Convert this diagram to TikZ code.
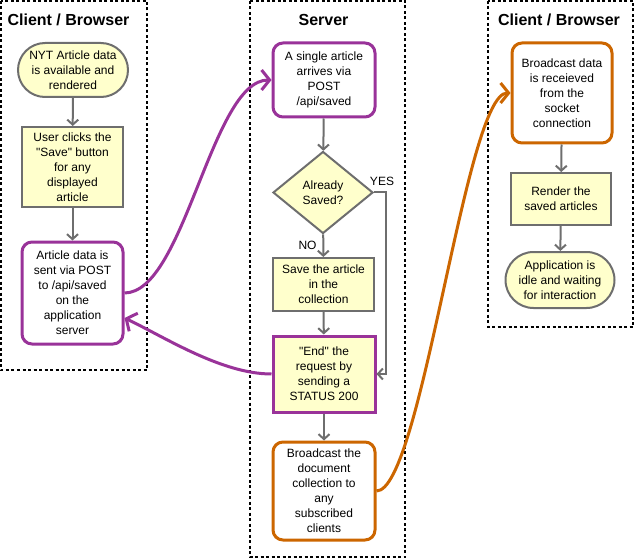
\documentclass[tikz,border=0pt]{standalone}
\usepackage{fontspec}
\setmainfont{Liberation Sans}[Ligatures=TeXOff]
\usetikzlibrary{arrows.meta,shapes.geometric}
\definecolor{gline}{RGB}{110,110,110}
\definecolor{yfill}{RGB}{255,255,204}
\definecolor{purp}{RGB}{153,51,153}
\definecolor{orng}{RGB}{204,102,0}
\begin{document}
\begin{tikzpicture}[x=1pt,y=-1pt,
  txt/.style={font=\fontsize{12}{15}\selectfont, align=center, inner sep=0pt},
  title/.style={font=\fontsize{16}{18}\selectfont\bfseries, inner sep=0pt},
  lane/.style={draw=black, line width=2pt, dash pattern=on 3pt off 2.5pt},
  ybox/.style={txt, draw=gline, line width=2pt, fill=yfill},
  stadium/.style={ybox, rounded corners=27pt},
  pround/.style={txt, draw=purp, line width=3pt, fill=white, rounded corners=10pt},
  oround/.style={txt, draw=orng, line width=3pt, fill=white, rounded corners=10pt},
  garrow/.style={draw=gline, line width=2pt, -{Straight Barb[length=5pt,width=11pt]}},
  parrow/.style={draw=purp, line width=3pt, -{Straight Barb[length=8pt,width=20pt]}},
  oarrow/.style={draw=orng, line width=3pt, -{Straight Barb[length=8pt,width=20pt]}},
  lbl/.style={font=\fontsize{12}{15}\selectfont, inner sep=0pt}
]
\useasboundingbox (0,0) rectangle (635,559);
% lanes
\draw[lane] (1,1) rectangle (147,370);
\draw[lane] (250,1) rectangle (405,557);
\draw[lane] (488,1) rectangle (633,327);
\node[title] (t1) at (68.5,20) {Client / Browser};
\node[title] (t2) at (323.5,20) {Server};
\node[title] (t3) at (559,20) {Client / Browser};
% left lane
\node[stadium, minimum width=110pt, minimum height=54pt] (nyt) at (73,70)
  {NYT Article data\\is available and\\rendered};
\node[ybox, minimum width=101pt, minimum height=80pt] (user) at (72.5,167)
  {User clicks the\\"Save" button\\for any\\displayed\\article};
\node[pround, minimum width=101pt, minimum height=102pt] (art) at (72.5,293)
  {Article data is\\sent via POST\\to /api/saved\\on the\\application\\server};
% server lane
\node[pround, minimum width=102pt, minimum height=74pt] (single) at (324,80)
  {A single article\\arrives via\\POST\\/api/saved};
\node[txt, diamond, draw=gline, line width=2pt, fill=yfill, minimum width=100pt, minimum height=82pt] (dec) at (323,192.5)
  {Already\\Saved?};
\node[ybox, minimum width=101pt, minimum height=53pt] (save) at (323.5,284.5)
  {Save the article\\in the\\collection};
\node[txt, draw=purp, line width=3pt, fill=yfill, minimum width=102pt, minimum height=76pt] (end) at (324,374)
  {"End" the\\request by\\sending a\\STATUS 200};
\node[oround, minimum width=102pt, minimum height=98pt] (bcast) at (324,491)
  {Broadcast the\\document\\collection to\\any\\subscribed\\clients};
% right lane
\node[oround, minimum width=100pt, minimum height=100pt] (bdata) at (562,93)
  {Broadcast data\\is receieved\\from the\\socket\\connection};
\node[ybox, minimum width=100pt, minimum height=52pt] (render) at (561,199)
  {Render the\\saved articles};
\node[stadium, rounded corners=28pt, minimum width=109pt, minimum height=56pt] (app) at (560,280)
  {Application is\\idle and waiting\\for interaction};
% gray arrows
\draw[garrow] (nyt) -- (user);
\draw[garrow] (user) -- (art);
\draw[garrow] (single) -- (dec);
\draw[garrow] (dec) -- (save);
\draw[garrow] (save) -- (end);
\draw[garrow] (end) -- (bcast);
\draw[garrow] (bdata) -- (render);
\draw[garrow] (render) -- (app);
\draw[garrow] (dec.east) -- ++(12,0) |- (end.east);
\node[lbl] (yes) at (382,181) {YES};
\node[lbl] (no) at (307.5,245) {NO};
% cross-lane curves
\draw[parrow] (art.east) .. controls +(60,0) and +(-60,0) .. (single.west);
\draw[parrow] (end.west) .. controls +(-50,0) and +(40,19) .. ([yshift=-25pt]art.east);
\draw[oarrow] (bcast.east) .. controls +(45,0) and +(-45,0) .. (bdata.west);
\end{tikzpicture}
\end{document}
